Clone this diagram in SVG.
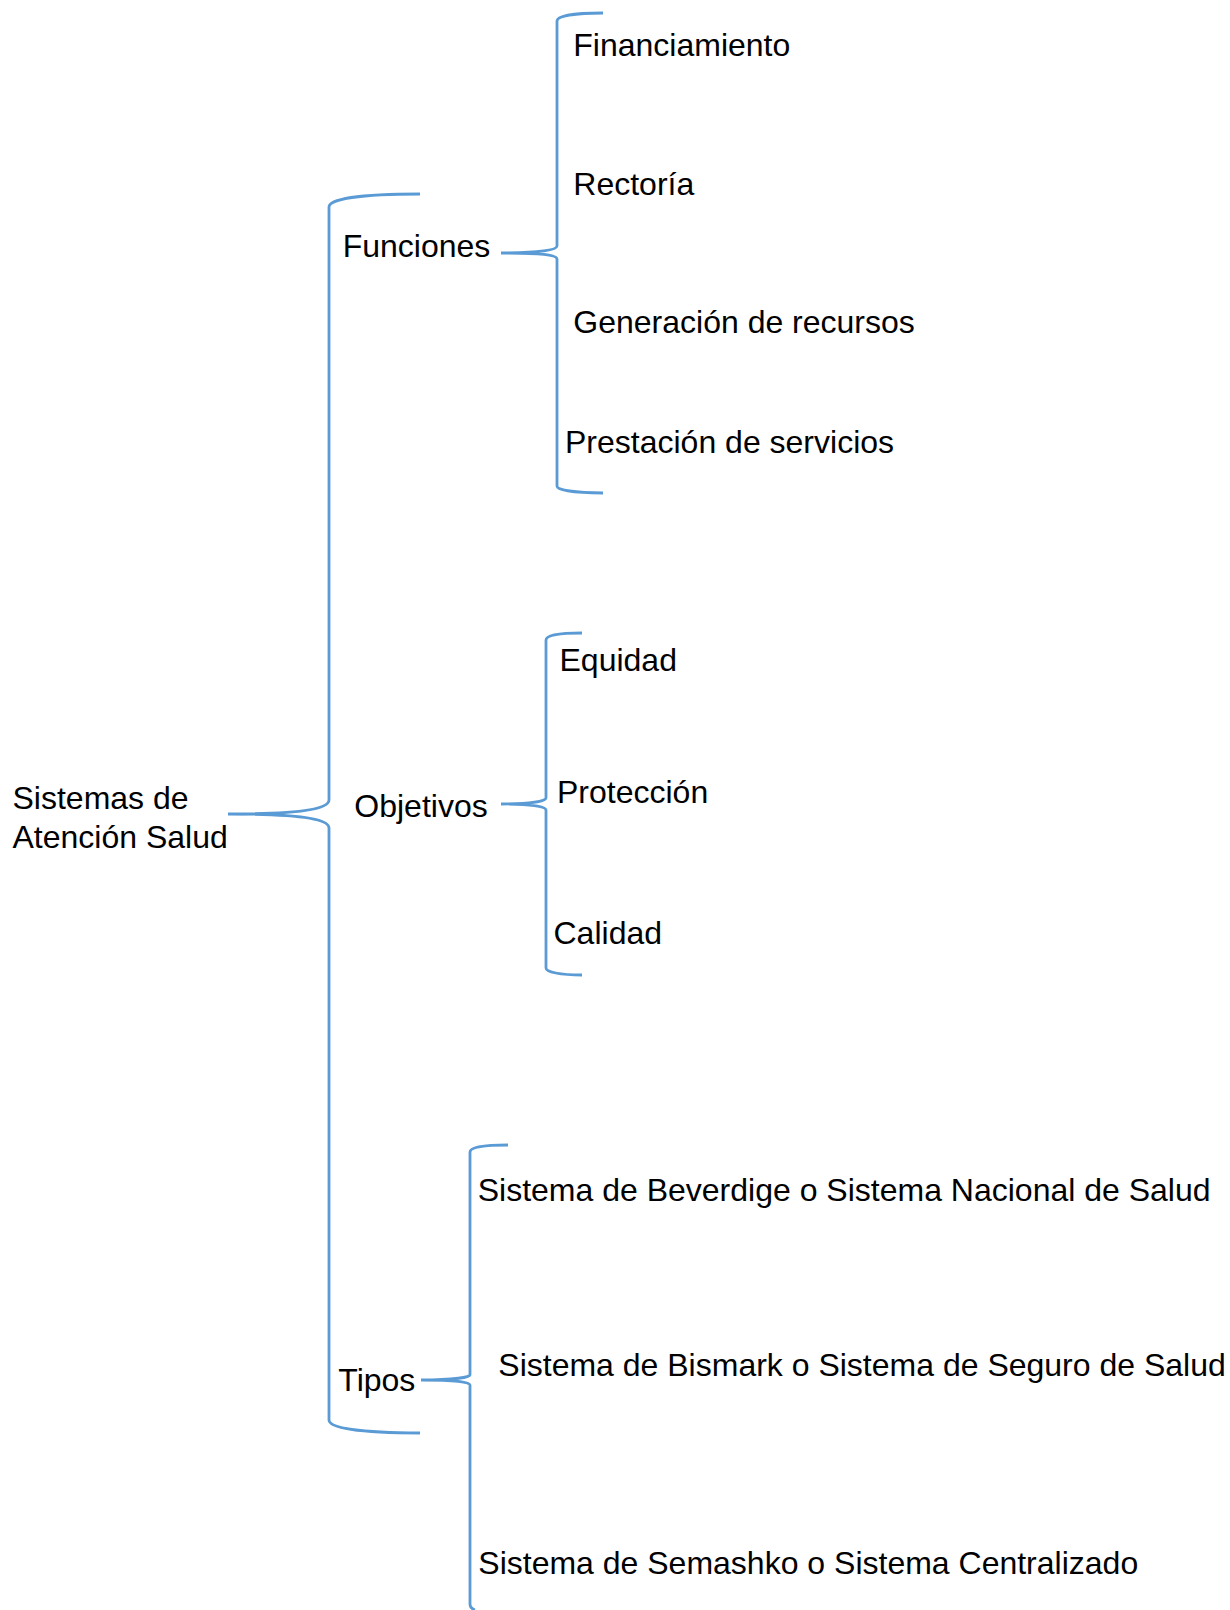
<svg xmlns="http://www.w3.org/2000/svg" width="1230" height="1610" viewBox="0 0 1230 1610">
<style>
text{font-family:"Liberation Sans",Arial,sans-serif;font-size:32px;fill:#000}
.br{fill:none;stroke:#5B9BD5;stroke-width:2.8}
</style>
<rect width="1230" height="1610" fill="#fff"/>
<g id="connectors">
<path class="br" d="M420,194 C360,194 329,199 329,207 L329,800 C329,809 300,814 228,814 C300,814 329,819 329,828 L329,1420 C329,1428 360,1433 420,1433"/>
<path class="br" d="M603,13 C575,13 557,16 557,21 L557,246 C557,250 540,253 501,253 C540,253 557,255 557,259 L557,486 C557,490 575,493 603,493"/>
<path class="br" d="M582,633 C560,633 546,635 546,640 L546,798 C546,801 530,804 501,804 C530,804 546,806 546,810 L546,968 C546,972 560,975 582,975"/>
<path class="br" d="M508,1145 C485,1145 470,1147 470,1152 L470,1375 C470,1377 455,1380 421,1380 C455,1380 470,1382 470,1385 L470,1604 C470,1607 472,1609 475,1610"/>
</g>
<g id="root"><text x="12.5" y="809">Sistemas de</text><text x="12.5" y="847.5">Atención Salud</text></g>
<g id="funciones"><text x="342.7" y="257">Funciones</text></g>
<g id="objetivos"><text x="354.3" y="816.5">Objetivos</text></g>
<g id="tipos"><text x="338.3" y="1391">Tipos</text></g>
<g id="financiamiento"><text x="573.3" y="56">Financiamiento</text></g>
<g id="rectoria"><text x="573.3" y="195">Rectoría</text></g>
<g id="generacion"><text x="573.3" y="333">Generación de recursos</text></g>
<g id="prestacion"><text x="565" y="453">Prestación de servicios</text></g>
<g id="equidad"><text x="559.5" y="671">Equidad</text></g>
<g id="proteccion"><text x="557" y="803">Protección</text></g>
<g id="calidad"><text x="553.5" y="944">Calidad</text></g>
<g id="beverdige"><text x="477.7" y="1201">Sistema de Beverdige o Sistema Nacional de Salud</text></g>
<g id="bismark"><text x="498.3" y="1376">Sistema de Bismark o Sistema de Seguro de Salud</text></g>
<g id="semashko"><text x="478.3" y="1574">Sistema de Semashko o Sistema Centralizado</text></g>
</svg>
